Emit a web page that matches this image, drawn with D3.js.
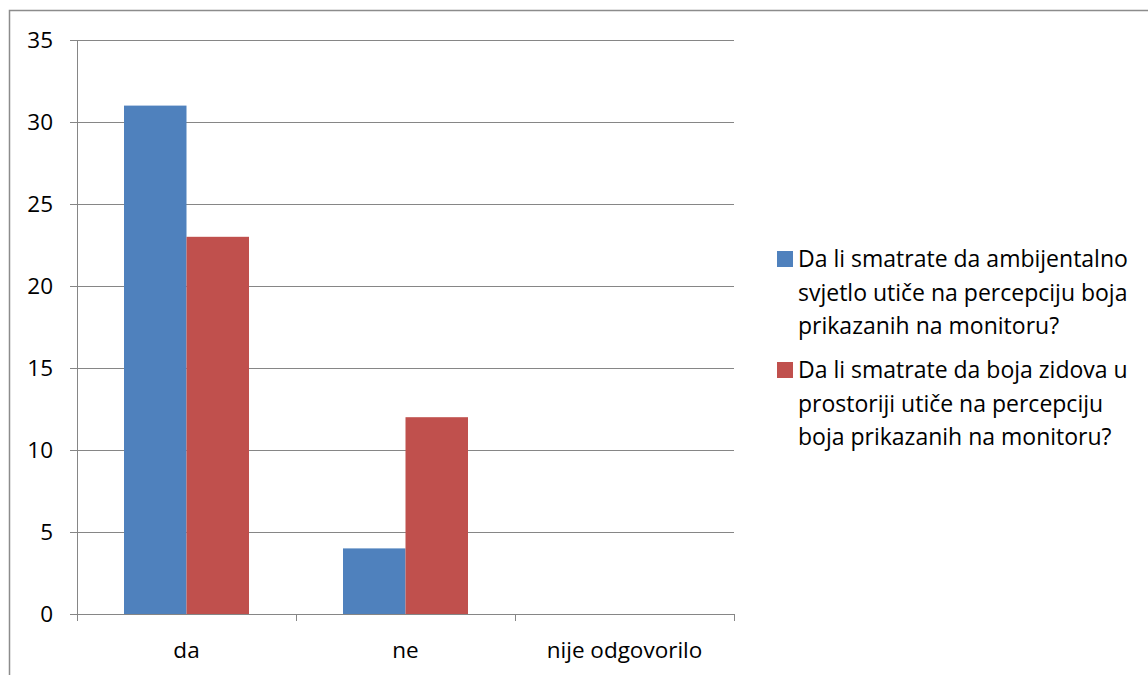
<!DOCTYPE html>
<html>
<head>
<meta charset="utf-8">
<script src="https://cdn.jsdelivr.net/npm/d3@7"></script>
<style>
  body { margin: 0; background: #fff; }
  svg { display: block; font-family: "Open Sans", sans-serif; }
</style>
</head>
<body>
<svg id="chart" width="1148" height="675"></svg>
<script>
var categories = ["da", "ne", "nije odgovorilo"];
var seriesNames = [
  "Da li smatrate da ambijentalno svjetlo utiče na percepciju boja prikazanih na monitoru?",
  "Da li smatrate da boja zidova u prostoriji utiče na percepciju boja prikazanih na monitoru?"
];
var ambijentalno = [31, 4, 0];
var zidovi = [23, 12, 0];
var yTicks = [0, 5, 10, 15, 20, 25, 30, 35];
var colors = ["#4f81bd", "#c0504d"];

var svg = d3.select("#chart");

// outer frame (top and left edges only are visible)
svg.append("path")
  .attr("d", "M9.5,675 V10.5 H1148")
  .attr("fill", "none")
  .attr("stroke", "#8c8c8c")
  .attr("stroke-width", 1.5);

var plotLeft = 77, plotRight = 734, plotTop = 40, plotBottom = 614;
var fs = 22.5;

var x = d3.scaleBand().domain(categories).range([plotLeft, plotRight]);
var xs = d3.scaleBand().domain([0, 1]).range([0, 125]);
var y = d3.scaleLinear().domain([0, 35]).range([plotBottom, plotTop]);

// gridlines + y ticks
svg.selectAll(".grid")
  .data(yTicks)
  .enter().append("line")
  .attr("x1", plotLeft - 7)
  .attr("x2", plotRight)
  .attr("y1", function(d) { return Math.round(y(d)) + 0.5; })
  .attr("y2", function(d) { return Math.round(y(d)) + 0.5; })
  .attr("stroke", "#868686")
  .attr("stroke-width", 1);

svg.selectAll(".ylab")
  .data(yTicks)
  .enter().append("text")
  .attr("x", 53)
  .attr("y", function(d) { return y(d); })
  .attr("dy", "0.35em")
  .attr("text-anchor", "end")
  .attr("font-size", fs)
  .attr("fill", "#000")
  .text(function(d) { return d; });

// bars
var data = [];
categories.forEach(function(c, i) {
  [ambijentalno[i], zidovi[i]].forEach(function(v, s) {
    data.push({ cat: c, s: s, v: v });
  });
});

svg.selectAll(".bar")
  .data(data.filter(function(d) { return d.v > 0; }))
  .enter().append("rect")
  .attr("class", "bar")
  .attr("x", function(d) { return x(d.cat) + (x.bandwidth() - 125) / 2 + xs(d.s); })
  .attr("width", xs.bandwidth())
  .attr("y", function(d) { return y(d.v); })
  .attr("height", function(d) { return y(0) - y(d.v); })
  .attr("fill", function(d) { return colors[d.s]; });

// y axis line
svg.append("line")
  .attr("x1", plotLeft + 0.5).attr("x2", plotLeft + 0.5)
  .attr("y1", plotTop).attr("y2", plotBottom)
  .attr("stroke", "#868686");

// x axis with category ticks
svg.append("line")
  .attr("x1", plotLeft).attr("x2", plotRight)
  .attr("y1", plotBottom + 0.5).attr("y2", plotBottom + 0.5)
  .attr("stroke", "#868686");

var xTickPos = categories.map(function(c) { return x(c); }).concat([plotRight]);
svg.selectAll(".xtick")
  .data(xTickPos)
  .enter().append("line")
  .attr("x1", function(d) { return Math.round(d) + 0.5; })
  .attr("x2", function(d) { return Math.round(d) + 0.5; })
  .attr("y1", plotBottom)
  .attr("y2", plotBottom + 7)
  .attr("stroke", "#868686");

svg.selectAll(".xlab")
  .data(categories)
  .enter().append("text")
  .attr("x", function(d) { return x(d) + x.bandwidth() / 2; })
  .attr("y", 650)
  .attr("dy", "0.35em")
  .attr("text-anchor", "middle")
  .attr("font-size", fs)
  .text(function(d) { return d; });

// legend
var legend = svg.append("g");
var lineH = 33.5;
var maxW = 345;
var yStart = [259, 370];
seriesNames.forEach(function(name, i) {
  legend.append("rect")
    .attr("x", 777).attr("y", yStart[i] - 8)
    .attr("width", 16).attr("height", 16)
    .attr("fill", colors[i]);
  var t = legend.append("text")
    .attr("x", 798)
    .attr("font-size", 23);
  var words = name.split(" "), line = [], n = 0;
  var tspan = t.append("tspan").attr("x", 798).attr("y", yStart[i]).attr("dy", "0.35em");
  words.forEach(function(w) {
    line.push(w);
    tspan.text(line.join(" "));
    if (tspan.node().getComputedTextLength() > maxW && line.length > 1) {
      line.pop();
      tspan.text(line.join(" "));
      line = [w];
      n++;
      tspan = t.append("tspan").attr("x", 798).attr("y", yStart[i] + n * lineH).attr("dy", "0.35em").text(w);
    }
  });
});
</script>
</body>
</html>
